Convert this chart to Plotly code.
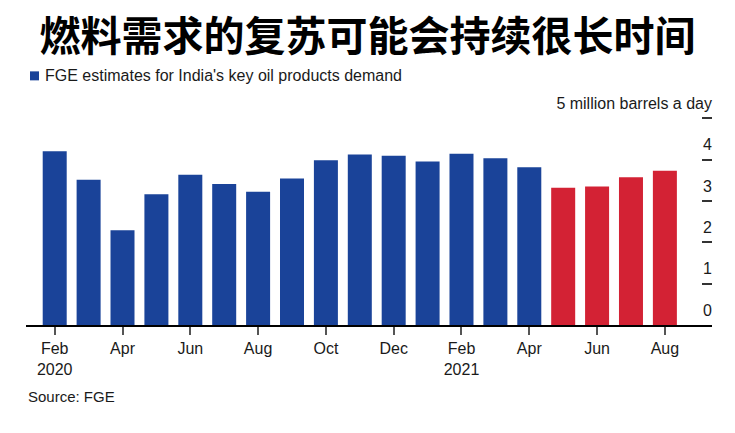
import plotly.graph_objects as go

# ---- data ----
months = ["2020-02", "2020-03", "2020-04", "2020-05", "2020-06", "2020-07", "2020-08",
          "2020-09", "2020-10", "2020-11", "2020-12", "2021-01", "2021-02", "2021-03",
          "2021-04", "2021-05", "2021-06", "2021-07", "2021-08"]
demand = [4.20, 3.51, 2.29, 3.16, 3.63, 3.41, 3.22, 3.54, 3.98, 4.12,
          4.09, 3.95, 4.14, 4.03, 3.81, 3.32, 3.35, 3.57, 3.73]
is_forecast = [False] * 15 + [True] * 4

tick_months = ["2020-02", "2020-04", "2020-06", "2020-08", "2020-10", "2020-12",
               "2021-02", "2021-04", "2021-06", "2021-08"]
tick_texts = ["Feb<br>2020", "Apr", "Jun", "Aug", "Oct", "Dec", "Feb<br>2021", "Apr", "Jun", "Aug"]

y_ticks = [0, 1, 2, 3, 4, 5]
y_tick_texts = ["0", "1", "2", "3", "4", "5 million barrels a day"]

title_text = "燃料需求的复苏可能会持续很长时间"
legend_text = "FGE estimates for India's key oil products demand"
source_text = "Source: FGE"

BLUE = "#1a4399"
RED = "#d32234"
colors = [RED if f else BLUE for f in is_forecast]

fig = go.Figure()
fig.add_trace(go.Bar(
    x=months, y=demand, marker=dict(color=colors, line=dict(width=0)),
    showlegend=False, hoverinfo="x+y",
))

W, H = 735, 433
left, right = 26, 712
bottom = 325.3
unit = 41.4
ymax = 5.1
top = bottom - unit * ymax
ph = bottom - top
pw = right - left


def px_x(x):
    return (x - left) / pw


def px_y(y):
    return (bottom - y) / ph


fig.update_layout(
    width=W, height=H,
    margin=dict(l=left, r=W - right, t=top, b=H - bottom, pad=0),
    paper_bgcolor="white", plot_bgcolor="white",
    font=dict(family="Liberation Sans, Arial, sans-serif", size=16, color="#1a1a1a"),
    bargap=0.292,
    showlegend=False,
    title=dict(
        text="<b>" + title_text + "</b>",
        font=dict(family="Noto Sans CJK SC", size=41, color="#000"),
        x=0.5, xanchor="center", xref="container",
        y=1 - 37 / H, yanchor="middle", yref="container",
    ),
    xaxis=dict(
        type="category",
        range=[-0.847, 19.39],
        tickvals=tick_months, ticktext=tick_texts,
        ticks="outside", ticklen=8, tickwidth=1.5, tickcolor="#555",
        showline=True, linecolor="#000", linewidth=1.5,
        showgrid=False, zeroline=False,
        tickfont=dict(size=16, color="#1a1a1a"),
    ),
    yaxis=dict(
        side="right", range=[0, ymax],
        tickvals=y_ticks, ticktext=y_tick_texts,
        ticks="inside", ticklen=10, tickwidth=1.5, tickcolor="#333",
        ticklabelposition="inside top",
        ticklabeloverflow="allow",
        ticklabelstandoff=-3,
        ticklabelshift=-3,
        showline=False, showgrid=False, zeroline=False,
        tickfont=dict(size=16, color="#1a1a1a"),
    ),
    shapes=[dict(
        type="rect", xref="paper", yref="paper",
        x0=px_x(30), x1=px_x(39), y0=px_y(80.5), y1=px_y(71.5),
        fillcolor=BLUE, line=dict(width=0),
    )],
    annotations=[
        dict(
            text=legend_text, xref="paper", yref="paper",
            x=px_x(43), xanchor="left", y=px_y(76), yanchor="middle",
            showarrow=False, font=dict(size=16, color="#1a1a1a"),
        ),
        dict(
            text=source_text, xref="paper", yref="paper",
            x=0, xanchor="left", y=px_y(397), yanchor="middle",
            showarrow=False, font=dict(size=15, color="#1a1a1a"),
        ),
    ],
)

fig.write_html("out.html")
